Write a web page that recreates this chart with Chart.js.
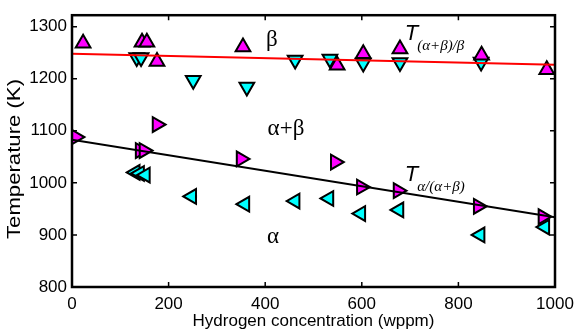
<!DOCTYPE html>
<html>
<head>
<meta charset="utf-8">
<script src="https://cdn.jsdelivr.net/npm/chart.js@4/dist/chart.umd.min.js"></script>
<style>
html, body { margin: 0; padding: 0; background: #fff; }
#wrap { width: 581px; height: 335px; }
</style>
</head>
<body>
<div id="wrap"><canvas id="chart" width="581" height="335"></canvas></div>
<script>
// magenta up triangles (alpha+beta -> beta, heating)
const upX = [23, 145, 155, 176, 354, 549, 603, 679, 848, 983];
const upY = [1268, 1270, 1270, 1233, 1261, 1226, 1248, 1257, 1245, 1217];
// cyan down triangles
const downX = [134, 143, 251, 362, 462, 534, 603, 679, 847];
const downY = [1241, 1241, 1197, 1184, 1236, 1238, 1230, 1231, 1232];
// magenta right triangles (alpha -> alpha+beta)
const rightX = [8, 141, 149, 176, 350, 545, 599, 675, 841, 975];
const rightY = [1088, 1062, 1062, 1112, 1046, 1040, 992, 985, 955, 935];
// cyan left triangles
const leftX = [131, 140, 152, 248, 358, 462, 532, 598, 677, 845, 979];
const leftY = [1020, 1018, 1015, 974, 959, 965, 970, 941, 948, 900, 915];

// fitted boundaries
const fitX = [0, 1000];
const betaFitY = [1248, 1227];
const alphaFitY = [1083, 934];

const xTicks = [0, 200, 400, 600, 800, 1000];
const yTicks = [800, 900, 1000, 1100, 1200, 1300];

const regionLabels = ['β', 'α+β', 'α'];
const regionX = [414, 443, 416];
const regionY = [1274, 1103, 897];

const boundarySubs = ['(α+β)/β', 'α/(α+β)'];
const boundaryX = [689, 689];
const boundaryY = [1274, 1003];

const toPoints = (xs, ys) => xs.map((x, i) => ({ x: x, y: ys[i] }));

function markerSet(label, xs, ys, color, rotation) {
    return {
        type: 'scatter',
        label: label,
        data: toPoints(xs, ys),
        pointStyle: 'triangle',
        pointRotation: rotation,
        pointRadius: 8.5,
        pointHoverRadius: 8.5,
        backgroundColor: color,
        borderColor: '#000',
        borderWidth: 2,
        order: 1
    };
}

function lineSet(label, ys, color) {
    return {
        type: 'line',
        label: label,
        data: toPoints(fitX, ys),
        borderColor: color,
        borderWidth: 2,
        pointRadius: 0,
        fill: false,
        order: 0
    };
}

const framePlugin = {
    id: 'frame',
    afterDatasetsDraw(chart) {
        const { ctx, chartArea: a, scales } = chart;
        ctx.save();
        ctx.strokeStyle = '#000';
        ctx.lineWidth = 1.5;
        ctx.beginPath();
        xTicks.forEach(v => {
            const px = scales.x.getPixelForValue(v);
            ctx.moveTo(px, a.bottom); ctx.lineTo(px, a.bottom - 5);
            ctx.moveTo(px, a.top); ctx.lineTo(px, a.top + 5);
        });
        yTicks.forEach(v => {
            const py = scales.y.getPixelForValue(v);
            ctx.moveTo(a.left, py); ctx.lineTo(a.left + 5, py);
            ctx.moveTo(a.right, py); ctx.lineTo(a.right - 5, py);
        });
        ctx.stroke();
        ctx.lineWidth = 2.5;
        ctx.strokeRect(a.left, a.top, a.right - a.left, a.bottom - a.top);

        // region labels
        ctx.fillStyle = '#000';
        ctx.textAlign = 'center';
        ctx.textBaseline = 'middle';
        ctx.font = '23px "Liberation Serif"';
        regionLabels.forEach((t, i) => {
            ctx.fillText(t, scales.x.getPixelForValue(regionX[i]), scales.y.getPixelForValue(regionY[i]));
        });

        // boundary labels T_sub
        ctx.textAlign = 'left';
        ctx.textBaseline = 'alphabetic';
        boundarySubs.forEach((s, i) => {
            const px = scales.x.getPixelForValue(boundaryX[i]);
            const py = scales.y.getPixelForValue(boundaryY[i]);
            ctx.font = 'italic 22px "Liberation Sans"';
            ctx.fillText('T', px, py);
            const w = ctx.measureText('T').width;
            ctx.font = 'italic 15px "Liberation Serif"';
            ctx.fillText(s, px + w - 1, py + 10);
        });

        // y axis title, stretched along its length like the original
        ctx.font = '18px "Liberation Sans"';
        const title = 'Temperature (K)';
        const tw = ctx.measureText(title).width;
        ctx.translate(15, 159);
        ctx.rotate(-Math.PI / 2);
        ctx.scale(160 / tw, 1);
        ctx.textAlign = 'center';
        ctx.textBaseline = 'middle';
        ctx.fillText(title, 0, 0);
        ctx.restore();
    }
};

const tickFont = { family: 'Liberation Sans', size: 17 };

new Chart(document.getElementById('chart'), {
    data: {
        datasets: [
            lineSet('T (a+b)/b', betaFitY, '#ff0000'),
            lineSet('T a/(a+b)', alphaFitY, '#000000'),
            markerSet('up', upX, upY, '#ff00ff', 0),
            markerSet('down', downX, downY, '#00ffff', 180),
            markerSet('right', rightX, rightY, '#ff00ff', 90),
            markerSet('left', leftX, leftY, '#00ffff', 270)
        ]
    },
    options: {
        responsive: false,
        animation: false,
        layout: { padding: { left: 0, right: 26, top: 4, bottom: 0 } },
        plugins: {
            legend: { display: false },
            tooltip: { enabled: false }
        },
        scales: {
            x: {
                type: 'linear',
                min: 0,
                max: 1000,
                grid: { display: false, drawTicks: false },
                border: { display: false },
                ticks: { padding: 7, color: '#000', font: tickFont, callback: v => String(v) },
                afterBuildTicks: axis => { axis.ticks = xTicks.map(v => ({ value: v })); },
                title: {
                    display: true,
                    text: 'Hydrogen concentration (wppm)',
                    color: '#000',
                    font: { family: 'Liberation Sans', size: 17 },
                    padding: { top: 0, bottom: 3 }
                },
                afterFit: s => { s.height = 48; }
            },
            y: {
                type: 'linear',
                min: 800,
                max: 1322,
                grid: { display: false, drawTicks: false },
                border: { display: false },
                ticks: { padding: 5, color: '#000', font: tickFont, callback: v => String(v) },
                afterBuildTicks: axis => { axis.ticks = yTicks.map(v => ({ value: v })); },
                afterFit: s => { s.width = 72; }
            }
        }
    },
    plugins: [framePlugin]
});
</script>
</body>
</html>
